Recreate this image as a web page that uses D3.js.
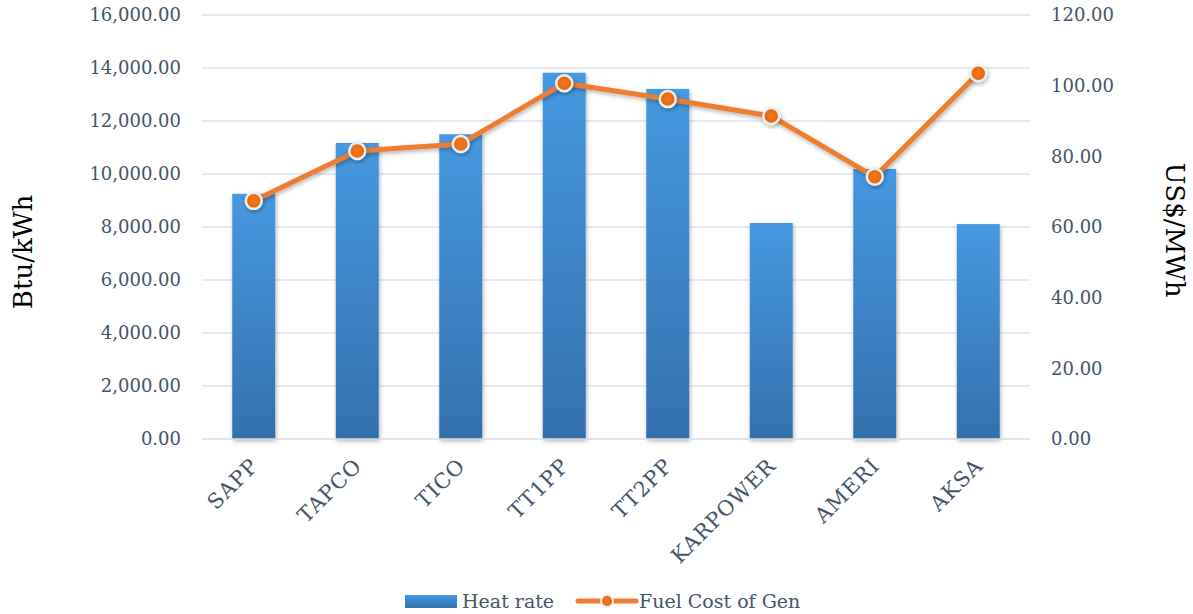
<!DOCTYPE html>
<html lang="en">
<head>
    <meta charset="UTF-8">
    <title>Heat rate and fuel cost of generation</title>
    <script src="https://d3js.org/d3.v7.min.js"></script>
    <style>
        body { margin: 0; background: #fff; }
        text { font-family: "DejaVu Serif", "Liberation Serif", serif; }
        .grid line { stroke: #dfe3e8; stroke-width: 1.5px; }
        .tick text { fill: #44546a; font-size: 18px; }
    </style>
</head>
<body>
<svg width="1193" height="614"></svg>
<script type="text/javascript">
    // data
    const plants = ["SAPP", "TAPCO", "TICO", "TT1PP", "TT2PP", "KARPOWER", "AMERI", "AKSA"];
    const heatRate = [9250, 11170, 11500, 13820, 13210, 8150, 10190, 8110];
    const fuelCost = [67.4, 81.5, 83.5, 100.7, 96.2, 91.4, 74.2, 103.5];
    const leftTicks = [0, 2000, 4000, 6000, 8000, 10000, 12000, 14000, 16000];
    const rightTicks = [0, 20, 40, 60, 80, 100, 120];

    let svg = d3.select("svg");
    let plotLeft = 202, plotRight = 1030, plotTop = 15, plotBottom = 439;

    let x = d3.scaleBand().domain(plants).range([plotLeft, plotRight]).padding(0);
    let yL = d3.scaleLinear().domain([0, 16000]).range([plotBottom, plotTop]);
    let yR = d3.scaleLinear().domain([0, 120]).range([plotBottom, plotTop]);

    let defs = svg.append("defs");
    let grad = defs.append("linearGradient").attr("id", "barGrad")
        .attr("x1", 0).attr("y1", 0).attr("x2", 0).attr("y2", 1);
    grad.append("stop").attr("offset", "0%").attr("stop-color", "#4699e1");
    grad.append("stop").attr("offset", "100%").attr("stop-color", "#3370ad");

    let mgrad = defs.append("radialGradient").attr("id", "markGrad");
    mgrad.append("stop").attr("offset", "0%").attr("stop-color", "#f47a1c");
    mgrad.append("stop").attr("offset", "100%").attr("stop-color", "#e4650c");

    let shadow = defs.append("filter").attr("id", "shadow")
        .attr("x", "-30%").attr("y", "-30%").attr("width", "160%").attr("height", "160%");
    shadow.append("feDropShadow").attr("dx", 1).attr("dy", 2).attr("stdDeviation", 2)
        .attr("flood-color", "#000").attr("flood-opacity", 0.3);

    // gridlines
    svg.append("g").attr("class", "grid")
        .selectAll("line")
        .data(leftTicks.slice(1))
        .join("line")
        .attr("x1", plotLeft).attr("x2", plotRight)
        .attr("y1", d => yL(d)).attr("y2", d => yL(d));

    // left axis
    let axL = svg.append("g")
        .attr("transform", "translate(" + (plotLeft - 11) + ",0)")
        .call(d3.axisLeft(yL).tickValues(leftTicks).tickSize(0).tickPadding(10)
            .tickFormat(d3.format(",.2f")));
    axL.select(".domain").remove();

    // right axis
    let axR = svg.append("g")
        .attr("transform", "translate(" + (plotRight + 11) + ",0)")
        .call(d3.axisRight(yR).tickValues(rightTicks).tickSize(0).tickPadding(10)
            .tickFormat(d3.format(".2f")));
    axR.select(".domain").remove();

    // bars
    let bw = x.bandwidth() * 0.415;
    svg.append("g").selectAll("rect")
        .data(plants)
        .join("rect")
        .attr("x", (d, i) => x(d) + (x.bandwidth() - bw) / 2)
        .attr("y", (d, i) => yL(heatRate[i]))
        .attr("width", bw)
        .attr("height", (d, i) => plotBottom - yL(heatRate[i]))
        .attr("fill", "url(#barGrad)")
        .attr("filter", "url(#shadow)");

    // baseline
    svg.append("line")
        .attr("x1", plotLeft).attr("x2", plotRight)
        .attr("y1", plotBottom).attr("y2", plotBottom)
        .attr("stroke", "#d9dde3").attr("stroke-width", 1.5);

    // x labels
    svg.append("g").selectAll("text")
        .data(plants)
        .join("text")
        .attr("transform", d => "translate(" + (x(d) + x.bandwidth() / 2 + 6) + "," + (plotBottom + 28) + ") rotate(-45)")
        .attr("text-anchor", "end")
        .attr("fill", "#44546a")
        .style("font-size", "21px")
        .style("letter-spacing", "1px")
        .text(d => d);

    // line
    let line = d3.line()
        .x((d, i) => x(plants[i]) + x.bandwidth() / 2)
        .y(d => yR(d));

    svg.append("path")
        .datum(fuelCost)
        .attr("d", line)
        .attr("fill", "none")
        .attr("stroke", "#ed7d31")
        .attr("stroke-width", 5)
        .attr("stroke-linejoin", "round")
        .attr("filter", "url(#shadow)");

    svg.append("g").selectAll("circle")
        .data(fuelCost)
        .join("circle")
        .attr("cx", (d, i) => x(plants[i]) + x.bandwidth() / 2)
        .attr("cy", d => yR(d))
        .attr("r", 8)
        .attr("fill", "url(#markGrad)")
        .attr("stroke", "#eeeeee")
        .attr("stroke-width", 2.5)
        .attr("filter", "url(#shadow)");

    // axis titles
    svg.append("text")
        .attr("transform", "translate(32,252) rotate(-90)")
        .attr("text-anchor", "middle")
        .style("font-size", "26px")
        .attr("fill", "#000")
        .text("Btu/kWh");

    svg.append("text")
        .attr("transform", "translate(1166,230) rotate(90)")
        .attr("text-anchor", "middle")
        .style("font-size", "26px")
        .attr("fill", "#000")
        .text("US$/MWh");

    // legend
    let lg = svg.append("g").attr("transform", "translate(0,601)");
    lg.append("rect").attr("x", 405).attr("y", -6).attr("width", 52).attr("height", 13)
        .attr("fill", "url(#barGrad)");
    lg.append("text").attr("x", 462).attr("y", 0).attr("dy", "0.35em")
        .attr("fill", "#44546a").style("font-size", "19px").text("Heat rate");
    lg.append("line").attr("x1", 578).attr("x2", 636).attr("y1", 0).attr("y2", 0)
        .attr("stroke", "#ed7d31").attr("stroke-width", 5).attr("stroke-linecap", "round");
    lg.append("circle").attr("cx", 607).attr("cy", 0).attr("r", 6)
        .attr("fill", "url(#markGrad)").attr("stroke", "#eeeeee").attr("stroke-width", 2);
    lg.append("text").attr("x", 639).attr("y", 0).attr("dy", "0.35em")
        .attr("fill", "#44546a").style("font-size", "19px").text("Fuel Cost of Gen");
</script>
</body>
</html>
